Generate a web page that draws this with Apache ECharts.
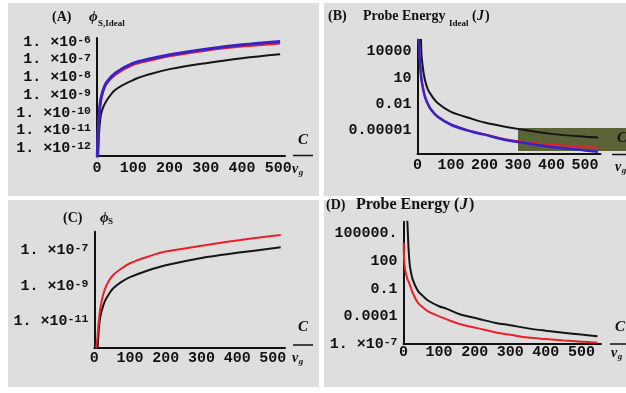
<!DOCTYPE html>
<html>
<head>
<meta charset="utf-8">
<script src="https://cdn.jsdelivr.net/npm/echarts@6/dist/echarts.min.js"></script>
<style>
  html, body { margin: 0; padding: 0; background: #fff; }
  #chart { width: 626px; height: 393px; }
</style>
</head>
<body>
<div id="chart"></div>
<script>
// x = C / v_g, y values
const xTicks = [0, 100, 200, 300, 400, 500];

// (A) phi_S,Ideal
const aX = [0.5, 1, 2, 3, 5, 7, 10, 15, 25, 50, 100, 150, 200, 300, 400, 505];
const aBlue = [3.2e-14, 5.0e-13, 2.0e-12, 7.9e-12, 4.0e-11, 1.4e-10, 5.0e-10, 1.4e-9, 4.7e-9, 1.7e-8, 6.3e-8, 1.15e-7, 1.9e-7, 3.9e-7, 6.8e-7, 1.05e-6];
const aRed = [2.5e-14, 4.0e-13, 1.6e-12, 6.3e-12, 3.5e-11, 1.26e-10, 4.5e-10, 1.26e-9, 4.0e-9, 1.4e-8, 5.2e-8, 9.5e-8, 1.6e-7, 3.3e-7, 5.6e-7, 8.5e-7];
const aBlack = [1e-16, 1e-15, 3.2e-14, 2.5e-13, 4.0e-12, 1.6e-11, 6.0e-11, 1.6e-10, 4.3e-10, 1.95e-9, 7.1e-9, 1.6e-8, 2.9e-8, 6.3e-8, 1.2e-7, 2.0e-7];
const aTicks = [1e-12, 1e-11, 1e-10, 1e-9, 1e-8, 1e-7, 1e-6];

// (B) Probe Energy_Ideal (J)
const bX = [3, 5, 7, 10, 12, 17, 22, 30, 40, 60, 100, 160, 200, 250, 300, 400, 500, 539];
const bBlack = [1e8, 3.2e7, 3.2e6, 4.0e5, 4.0e3, 79, 6.3, 0.63, 0.126, 0.014, 1.4e-3, 2.4e-4, 8.5e-5, 3.4e-5, 1.6e-5, 4.3e-6, 2.0e-6, 1.7e-6];
const bBlue = [4.0e5, 2.5e4, 1.1e3, 32, 5.9, 0.5, 0.074, 0.0126, 2.5e-3, 3.8e-4, 4.7e-5, 7.9e-6, 3.5e-6, 1.1e-6, 5.0e-7, 1.4e-7, 5.6e-8, 4.0e-8];
const bRed = [4.5e5, 2.8e4, 1.26e3, 35, 6.6, 0.56, 0.083, 0.014, 2.8e-3, 4.3e-4, 5.2e-5, 8.9e-6, 4.0e-6, 1.3e-6, 6.3e-7, 2.5e-7, 1.4e-7, 1.1e-7];
const bTicks = [1e-5, 0.01, 10, 10000];

// (C) phi_S
const cX = [3, 6, 9, 12, 15, 20, 29, 40, 53, 75, 100, 150, 200, 300, 400, 522];
const cRed = [1e-14, 4.0e-13, 1.45e-12, 7.9e-12, 2.9e-11, 1.26e-10, 5.9e-10, 1.8e-9, 4.0e-9, 8.9e-9, 1.8e-8, 4.2e-8, 8.1e-8, 1.7e-7, 3.4e-7, 6.9e-7];
const cBlack = [1e-16, 1e-14, 2.5e-13, 2.5e-12, 1.1e-11, 3.5e-11, 1.3e-10, 3.2e-10, 7.2e-10, 1.6e-9, 3.0e-9, 7.1e-9, 1.4e-8, 3.6e-8, 6.9e-8, 1.4e-7];
const cTicks = [1e-11, 1e-9, 1e-7];

// (D) Probe Energy (J)
const dX = [0.5, 1, 3, 6, 10, 11, 14, 17, 20, 26, 40, 55, 70, 100, 120, 160, 210, 260, 300, 350, 400, 450, 500, 545];
const dBlack = [1e12, 1e11, 1e10, 1e8, 4.0e6, 1.6e6, 3.2e3, 63, 10, 1.0, 0.063, 0.016, 5.0e-3, 1.26e-3, 7.1e-4, 1.6e-4, 5.6e-5, 1.9e-5, 1.1e-5, 5.0e-6, 2.8e-6, 1.7e-6, 1.05e-6, 7.1e-7];
const dRed = [1e4, 630, 40, 6.3, 1.6, 1.1, 0.63, 0.32, 0.16, 0.035, 3.2e-3, 8.9e-4, 3.2e-4, 1.0e-4, 5.0e-5, 1.4e-5, 5.0e-6, 1.8e-6, 1.0e-6, 5.0e-7, 3.4e-7, 2.4e-7, 1.8e-7, 1.4e-7];
const dTicks = [1e-7, 1e-4, 0.1, 100, 100000];

const BLUE = '#3a22c8', RED = '#e8222a', BLACK = '#151515';
const MONO = '"Liberation Mono", "DejaVu Sans Mono", monospace';
const SERIF = '"Liberation Serif", "DejaVu Serif", serif';

const chart = echarts.init(document.getElementById('chart'));

function pairs(xs, ys) {
  return xs.map((x, i) => [x, Math.log10(ys[i])]);
}
function exps(list) {
  return list.map(v => Math.round(Math.log10(v)));
}
// Mathematica-like tick text
function tickText(e) {
  if (e < -5) return '{m|1. \u00d710}{s|' + e + '}';
  if (e >= 5) return Math.pow(10, e) + '.';
  if (e >= 0) return String(Math.pow(10, e));
  return Math.pow(10, e).toFixed(-e);
}

const panels = [
  { grid: { left: 97, top: 38, width: 188, height: 118 }, xMax: 518.5, yMin: -12.44, yMax: -5.78, ticks: aTicks, xMargin: 5 },
  { grid: { left: 417.5, top: 40, width: 183, height: 114 }, xMax: 546, yMin: -7.66, yMax: 5.33, ticks: bTicks, xMargin: 4 },
  { grid: { left: 94.3, top: 231.7, width: 190.7, height: 115.6 }, xMax: 534, yMin: -12.44, yMax: -5.98, ticks: cTicks, xMargin: 3 },
  { grid: { left: 403.5, top: 221.7, width: 197.5, height: 122.3 }, xMax: 555, yMin: -7, yMax: 6.29, ticks: dTicks, xMargin: 1 }
];

const axisLine = { show: true, onZero: false, lineStyle: { color: '#111', width: 2 } };
const labelBase = {
  color: '#111', fontFamily: MONO, fontWeight: 'bold', fontSize: 15,
  interval: 0, hideOverlap: false
};

function line(name, i, xs, ys, color, width) {
  return {
    name: name, type: 'line', xAxisIndex: i, yAxisIndex: i,
    data: pairs(xs, ys), showSymbol: false, smooth: 0.35, clip: true,
    lineStyle: { color: color, width: width }, itemStyle: { color: color }
  };
}

function txt(x, y, text, font, align) {
  return { type: 'text', x: x, y: y, z: 50,
    style: { text: text, font: font, fill: '#111', align: align || 'left', verticalAlign: 'middle' } };
}
function bar(x1, x2, y) {
  return { type: 'line', z: 50, shape: { x1: x1, y1: y, x2: x2, y2: y }, style: { stroke: '#111', lineWidth: 1.5 } };
}
function rect(x, y, w, h, fill, z) {
  return { type: 'rect', z: z, silent: true, shape: { x: x, y: y, width: w, height: h }, style: { fill: fill } };
}

const TB = 'bold 14px ' + SERIF;
const TD = 'bold 16px ' + SERIF;
const SUB = 'bold 9px ' + SERIF;
const FRAC = 'italic bold 15px ' + SERIF;
const VG = 'italic bold 14px ' + SERIF;
const GS = 'italic bold 9px ' + SERIF;

chart.setOption({
  backgroundColor: '#fff',
  animation: false,
  grid: panels.map(p => Object.assign({ containLabel: false, outerBoundsMode: 'none' }, p.grid)),
  xAxis: panels.map((p, i) => ({
    type: 'value', gridIndex: i, min: 0, max: p.xMax,
    axisLine: axisLine, axisTick: { show: false }, splitLine: { show: false },
    axisLabel: Object.assign({}, labelBase, { margin: p.xMargin, customValues: xTicks })
  })),
  yAxis: panels.map((p, i) => ({
    type: 'value', gridIndex: i, min: p.yMin, max: p.yMax,
    axisLine: axisLine, axisTick: { show: false }, splitLine: { show: false },
    axisLabel: Object.assign({}, labelBase, {
      margin: 6, lineHeight: 15, customValues: exps(p.ticks), formatter: v => tickText(Math.round(v)),
      rich: {
        m: { fontFamily: MONO, fontWeight: 'bold', fontSize: 15, lineHeight: 16, color: '#111' },
        s: { fontFamily: MONO, fontWeight: 'bold', fontSize: 11.5, lineHeight: 4, color: '#111', verticalAlign: 'top' }
      }
    })
  })),
  series: [
    line('A black', 0, aX, aBlack, BLACK, 2),
    line('A red', 0, aX, aRed, RED, 2.5),
    line('A blue', 0, aX, aBlue, BLUE, 3),
    line('B black', 1, bX, bBlack, BLACK, 2),
    line('B red', 1, bX, bRed, RED, 2),
    line('B blue', 1, bX, bBlue, BLUE, 2.5),
    line('C black', 2, cX, cBlack, BLACK, 2),
    line('C red', 2, cX, cRed, RED, 2),
    line('D black', 3, dX, dBlack, BLACK, 2),
    line('D red', 3, dX, dRed, RED, 2)
  ],
  graphic: [
    rect(8, 3, 311, 193, '#dedede', -10),
    rect(324, 3, 302, 193, '#dedede', -10),
    rect(8, 200, 311, 187, '#dedede', -10),
    rect(324, 200, 302, 187, '#dedede', -10),
    rect(518, 128, 108, 23, '#5c6337', -5),

    // titles
    txt(52, 17, '(A)', TB), txt(89, 17, '\u03d5', 'italic bold 15px ' + SERIF), txt(98, 24, 'S,Ideal', SUB),
    txt(328, 16, '(B)', TB), txt(363, 16, 'Probe Energy', TB), txt(449, 24, 'Ideal', SUB),
    txt(472, 16, '(', TB), txt(477, 16, 'J', 'italic bold 14px ' + SERIF), txt(485, 16, ')', TB),
    txt(63, 218, '(C)', TB), txt(100, 218, '\u03d5', 'italic bold 15px ' + SERIF), txt(108, 222, 'S', SUB),
    txt(326, 205, '(D)', TB), txt(356, 205, 'Probe Energy', TD),
    txt(454, 205, '(', TD), txt(460, 205, 'J', 'italic bold 16px ' + SERIF), txt(469, 205, ')', TD),

    // C / v_g axis captions
    txt(303, 140, 'C', FRAC, 'center'), bar(293, 313, 155.5), txt(295, 169, 'v', VG, 'center'), txt(301, 173, 'g', GS, 'center'),
    txt(622, 138, 'C', FRAC, 'center'), bar(612, 626, 154.5), txt(618, 167, 'v', VG, 'center'), txt(624, 171, 'g', GS, 'center'),
    txt(303, 327.5, 'C', FRAC, 'center'), bar(293, 313, 345), txt(295, 358, 'v', VG, 'center'), txt(301, 362, 'g', GS, 'center'),
    txt(620, 327, 'C', FRAC, 'center'), bar(610, 626, 344), txt(614, 353, 'v', VG, 'center'), txt(620, 357, 'g', GS, 'center')
  ]
});
</script>
</body>
</html>
